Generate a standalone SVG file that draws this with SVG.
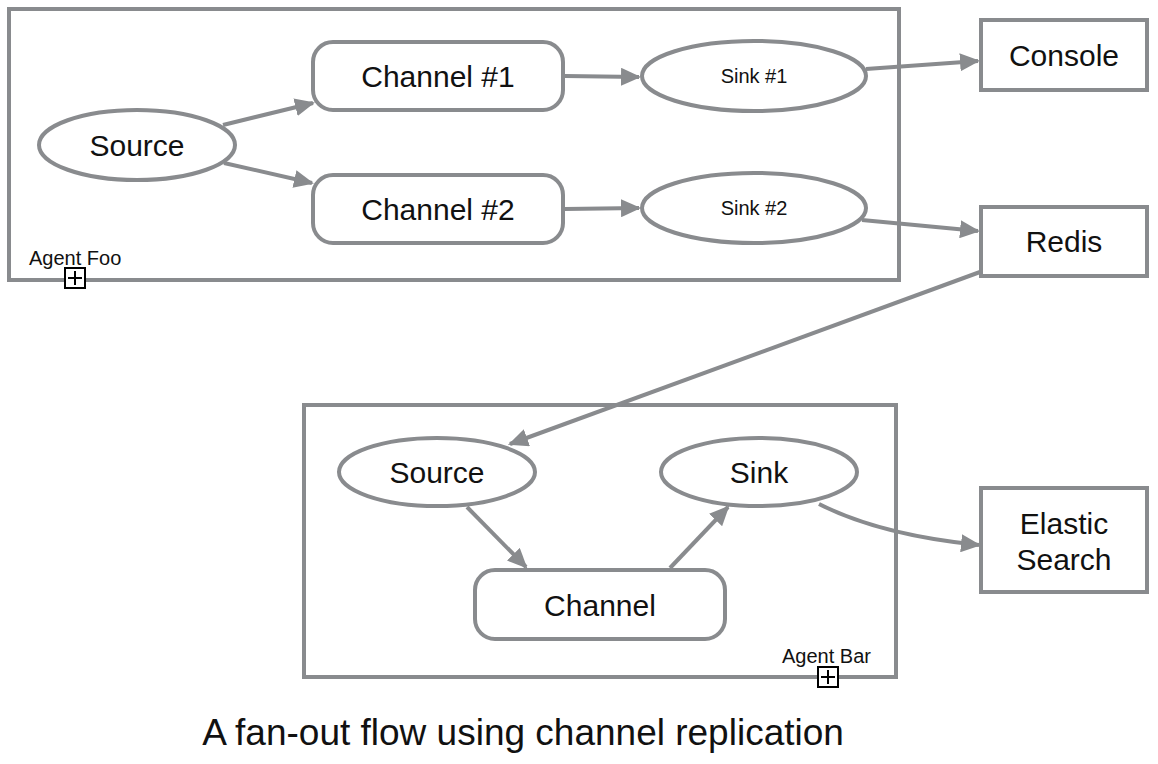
<svg xmlns="http://www.w3.org/2000/svg" width="1158" height="764" viewBox="0 0 1158 764">
<style>
.frame{fill:none;stroke:#898b8e;stroke-width:4}
.node{fill:#fff;stroke:#898b8e;stroke-width:4}
.edge{fill:none;stroke:#898b8e;stroke-width:4;marker-end:url(#ah)}
.t{font-family:"Liberation Sans",Arial,sans-serif;fill:#111;text-anchor:middle}
.big{font-size:30px}
.sm{font-size:20px}
.lab{font-family:"Liberation Sans",Arial,sans-serif;fill:#111;font-size:20px}
.plus{fill:#fff;stroke:#000;stroke-width:2}
</style>
<defs>
<marker id="ah" markerUnits="userSpaceOnUse" viewBox="0 0 20 18" refX="18" refY="9" markerWidth="20" markerHeight="18" orient="auto">
<path d="M0,0 L20,9 L0,18 Z" fill="#898b8e"/>
</marker>
</defs>
<rect width="1158" height="764" fill="#fff"/>
<g id="agent-foo">
<rect class="frame" x="9" y="9" width="890" height="271"/>
<text class="lab" x="29" y="265">Agent Foo</text>
<rect class="plus" x="65" y="268" width="20" height="20"/>
<path d="M75,271 V285 M68,278 H82" stroke="#000" stroke-width="2"/>
</g>
<g id="agent-bar">
<rect class="frame" x="304" y="405" width="592" height="272"/>
<text class="lab" x="782" y="663">Agent Bar</text>
<rect class="plus" x="818" y="667" width="20" height="20"/>
<path d="M828,670 V684 M821,677 H835" stroke="#000" stroke-width="2"/>
</g>
<g id="connectors">
<path class="edge" d="M223,125 L313,103"/>
<path class="edge" d="M224,163 L312,183"/>
<path class="edge" d="M565,76 L639,77"/>
<path class="edge" d="M565,209 L639,208"/>
<path class="edge" d="M866,69 L978,61"/>
<path class="edge" d="M862,220 L978,231"/>
<path class="edge" d="M980,272 L510,444"/>
<path class="edge" d="M467,507 L526,567"/>
<path class="edge" d="M670,568 L728,507"/>
<path class="edge" d="M819,504 Q880,535 979,545"/>
</g>
<g id="source-foo">
<ellipse class="node" cx="137" cy="145" rx="98" ry="35"/>
<text class="t big" x="137" y="156">Source</text>
</g>
<g id="channel-1">
<rect class="node" x="313" y="42" width="250" height="68" rx="20"/>
<text class="t big" x="438" y="87">Channel #1</text>
</g>
<g id="channel-2">
<rect class="node" x="313" y="175" width="250" height="68" rx="20"/>
<text class="t big" x="438" y="220">Channel #2</text>
</g>
<g id="sink-1">
<ellipse class="node" cx="754" cy="76" rx="112" ry="35"/>
<text class="t sm" x="754" y="83">Sink #1</text>
</g>
<g id="sink-2">
<ellipse class="node" cx="754" cy="208" rx="112" ry="35"/>
<text class="t sm" x="754" y="215">Sink #2</text>
</g>
<g id="console">
<rect class="node" x="981" y="20" width="166" height="70"/>
<text class="t big" x="1064" y="66">Console</text>
</g>
<g id="redis">
<rect class="node" x="981" y="207" width="166" height="69"/>
<text class="t big" x="1064" y="252">Redis</text>
</g>
<g id="elastic-search">
<rect class="node" x="981" y="488" width="166" height="104"/>
<text class="t big" x="1064" y="534">Elastic</text>
<text class="t big" x="1064" y="570">Search</text>
</g>
<g id="source-bar">
<ellipse class="node" cx="437" cy="472" rx="98" ry="34"/>
<text class="t big" x="437" y="483">Source</text>
</g>
<g id="sink-bar">
<ellipse class="node" cx="759" cy="472" rx="98" ry="34"/>
<text class="t big" x="759" y="483">Sink</text>
</g>
<g id="channel-bar">
<rect class="node" x="475" y="570" width="250" height="69" rx="20"/>
<text class="t big" x="600" y="616">Channel</text>
</g>
<text class="t" style="font-size:37px" x="523" y="745">A fan-out flow using channel replication</text>
</svg>
